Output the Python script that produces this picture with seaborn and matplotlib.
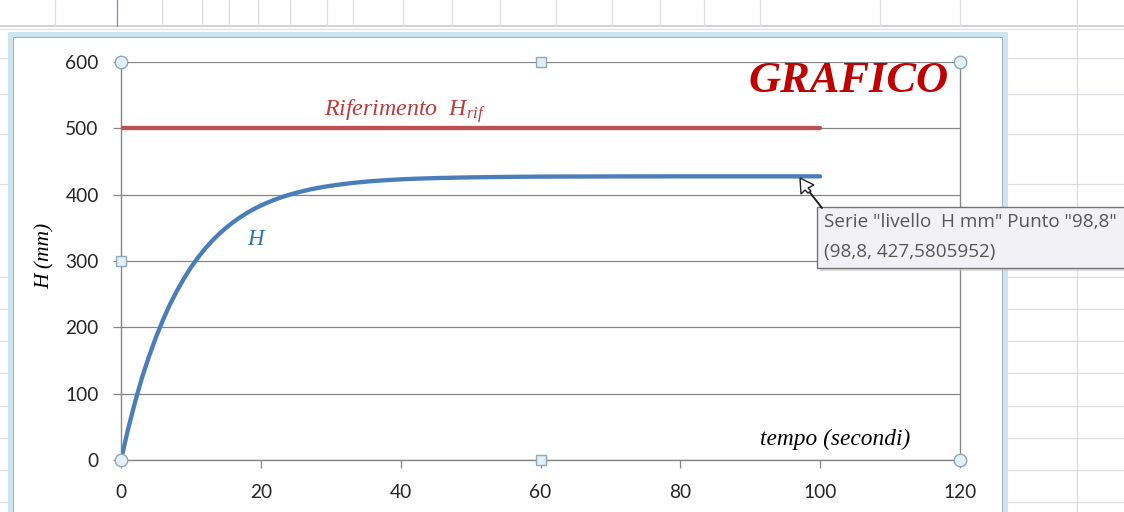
import numpy as np
import pandas as pd
import matplotlib
matplotlib.use("Agg")
import matplotlib.pyplot as plt
import seaborn as sns
from matplotlib.patches import Rectangle, Polygon
from matplotlib.lines import Line2D

# ---------------- data ----------------
tempo = [0, 1, 2, 3, 4, 5, 6, 7, 8, 9, 10, 11, 12, 13, 14, 15, 16, 17, 18, 19,
         20, 21, 22, 23, 24, 25, 26, 27, 28, 29, 30, 32, 34, 36, 38, 40, 42, 45,
         50, 55, 60, 70, 80, 90, 100]
livello_H = [0, 46, 87, 124, 156, 185, 211, 234.5, 255, 273.5, 290.3, 305.1,
             318.3, 330.0, 340.5, 349.8, 358.2, 365.6, 372.3, 378.3, 383.6,
             388.3, 392.5, 396.3, 399.6, 402.6, 405.3, 407.7, 409.9, 411.7,
             413.4, 416.3, 418.6, 420.5, 421.9, 423.1, 424.0, 425.0, 426.1,
             426.8, 427.2, 427.5, 427.6, 427.6, 427.6]
rif_t = [0, 100]
rif_H = [500, 500]
x_ticks = [0, 20, 40, 60, 80, 100, 120]
y_ticks = [0, 100, 200, 300, 400, 500, 600]
tooltip_lines = ['Serie "livello  H mm" Punto "98,8"', '(98,8, 427,5805952)']

# ---------------- style ----------------
sns.set_style("white")
plt.rcParams['font.family'] = ['Lato', 'DejaVu Sans']
plt.rcParams['mathtext.fontset'] = 'custom'
plt.rcParams['mathtext.it'] = 'Liberation Serif:italic'
plt.rcParams['mathtext.rm'] = 'Liberation Serif:italic'

W, H = 1124, 512
fig = plt.figure(figsize=(W / 100, H / 100), dpi=100)
fig.patch.set_facecolor('white')


def fx(x):
    return x / W


def fy(y):
    return 1 - y / H


# ---------------- spreadsheet background ----------------
grid_c = '#DADDE2'
for yy in [58, 94, 134, 184, 277, 309, 341, 373, 406, 438, 470, 502]:
    fig.add_artist(Line2D([fx(1008), 1], [fy(yy), fy(yy)], transform=fig.transFigure,
                          color=grid_c, lw=0.9, zorder=-5))
    fig.add_artist(Line2D([0, fx(8)], [fy(yy), fy(yy)], transform=fig.transFigure,
                          color=grid_c, lw=0.9, zorder=-5))
fig.add_artist(Line2D([fx(1077), fx(1077)], [0, fy(27)], transform=fig.transFigure,
                      color=grid_c, lw=0.9, zorder=-5))
# top strip of the sheet
fig.add_artist(Line2D([0, 1], [fy(26), fy(26)], transform=fig.transFigure,
                      color='#C9CCD1', lw=1.2, zorder=-5))
fig.add_artist(Line2D([0, 1], [fy(29), fy(29)], transform=fig.transFigure,
                      color='#E2E4E8', lw=1.0, zorder=-5))
for xx in [55, 117, 162, 202, 229, 258, 290, 327, 353, 403, 452, 500, 556, 612, 660,
           704, 760, 880, 960, 1077]:
    col = '#8080D0' if xx == 117 else grid_c
    fig.add_artist(Line2D([fx(xx), fx(xx)], [fy(0), fy(26)], transform=fig.transFigure,
                          color=col, lw=0.9, zorder=-5))

# chart object frame
fig.add_artist(Rectangle((fx(10), fy(530)), fx(995), (530 - 34) / H,
                         transform=fig.transFigure, facecolor='white',
                         edgecolor='#CBE6EE', lw=3.5, zorder=-4))
fig.add_artist(Rectangle((fx(13), fy(530)), fx(989), (530 - 37) / H,
                         transform=fig.transFigure, facecolor='none',
                         edgecolor='#A9B4B8', lw=0.8, zorder=-3))

# ---------------- plot area ----------------
left, right, top, bottom = 121, 960, 62, 460
ax = fig.add_axes([fx(left), fy(bottom), fx(right - left), (bottom - top) / H])
ax.patch.set_alpha(0)

gray = '#868686'
ax.set_xlim(0, 120)
ax.set_ylim(0, 600)
ax.set_xticks(x_ticks)
ax.set_yticks(y_ticks)
ax.yaxis.grid(True, color=gray, lw=0.9)
ax.xaxis.grid(False)
ax.set_axisbelow(True)
for s in ['left', 'bottom', 'right']:
    ax.spines[s].set_color(gray)
    ax.spines[s].set_linewidth(1.0)
ax.spines['top'].set_visible(False)
ax.tick_params(axis='both', which='both', direction='out', color=gray, width=0.9,
               length=6, labelsize=13.8, labelcolor='#262626')
ax.tick_params(axis='y', pad=10, left=True)
ax.tick_params(axis='x', pad=11, bottom=True)

sns.lineplot(x=rif_t, y=rif_H, ax=ax, color='#C0504D', lw=3.1, estimator=None,
             sort=False, zorder=3)
sns.lineplot(x=tempo, y=livello_H, ax=ax, color='#4A7EBB', lw=3.1, estimator=None,
             sort=False, zorder=4)
ax.set_xlabel('')
ax.set_ylabel('')

# texts
ax.text(104, 571, 'GRAFICO', fontfamily='Liberation Serif', fontstyle='italic',
        fontweight='bold', fontsize=32, color='#C00000', ha='center', va='center')
ax.text(29.0, 526, r'Riferimento  $H_{rif}$', fontfamily='Liberation Serif',
        fontstyle='italic', fontsize=17.2, color='#C0393B', ha='left', va='center')
ax.text(19.2, 332, 'H', fontfamily='Liberation Serif', fontstyle='italic',
        fontsize=16.5, color='#2E75B6', ha='center', va='center')
ax.text(102.2, 31, 'tempo (secondi)', fontfamily='Liberation Serif',
        fontstyle='italic', fontsize=16.8, color='black', ha='center', va='center')
fig.text(fx(45), fy(256), 'H (mm)', fontfamily='Liberation Serif', fontstyle='italic',
         fontsize=15.5, color='black', rotation=90, ha='center', va='center')

# selection handles of the plot area
ax.plot([0, 120, 0, 120], [600, 600, 0, 0], 'o', ms=9, mfc='#E3EFF5', mec='#8FA8B6',
        mew=1.0, clip_on=False, zorder=10)
ax.plot([60, 0, 60], [600, 300, 0], 's', ms=6.5, mfc='#E3EFF5', mec='#8FA8B6',
        mew=1.0, clip_on=False, zorder=10)

# ---------------- tooltip ----------------
fig.add_artist(Rectangle((fx(820), fy(271)), fx(320), 62 / H, transform=fig.transFigure,
                         facecolor='#C8C8C8', edgecolor='none', alpha=0.6, zorder=20))
fig.add_artist(Rectangle((fx(817), fy(268)), fx(320), 61 / H, transform=fig.transFigure,
                         facecolor='#F2F2F6', edgecolor='#767676', lw=1.0, zorder=21))
fig.text(fx(824), fy(222), tooltip_lines[0], fontfamily='Open Sans', fontsize=13.6,
         color='#575757', ha='left', va='center', zorder=22)
fig.text(fx(824), fy(252), tooltip_lines[1], fontfamily='Open Sans', fontsize=13.6,
         color='#575757', ha='left', va='center', zorder=22)

# mouse cursor
fig.add_artist(Line2D([fx(808), fx(822)], [fy(190), fy(208)], transform=fig.transFigure,
                      color='#202020', lw=1.4, zorder=23))
cur = [(800, 178), (801, 194), (805, 190), (808, 193), (811, 191), (808, 188), (814, 185)]
fig.add_artist(Polygon([(fx(a), fy(b)) for a, b in cur], closed=True,
                       transform=fig.transFigure, facecolor='white',
                       edgecolor='#202020', lw=1.0, zorder=24))

fig.savefig('out.png', dpi=100)
